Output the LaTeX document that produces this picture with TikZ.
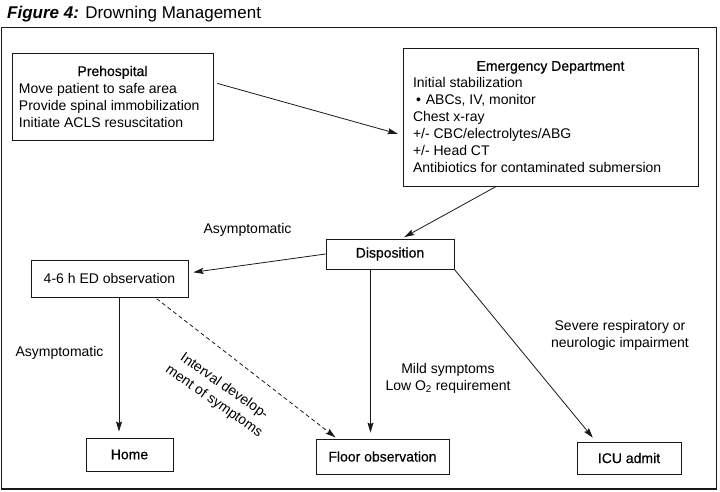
\documentclass[tikz,border=0pt]{standalone}
\usepackage{fontspec}
\setmainfont{Liberation Sans}
\newfontfamily\medfont[FakeBold=0.5]{Liberation Sans}
\usetikzlibrary{arrows.meta}
\begin{document}
\begin{tikzpicture}[x=1pt,y=-1pt,
  font=\fontsize{14}{17}\selectfont,
  box/.style={draw=black!90, line width=0.9pt, rectangle, inner sep=0pt},
  arr/.style={draw=black!90, line width=0.8pt, -{Stealth[length=10pt,width=6pt,inset=1.5pt]}},
  lbl/.style={align=center, inner sep=0pt}]
\useasboundingbox (0,0) rectangle (720,491);
\node[anchor=base west, font=\fontsize{17}{20}\selectfont, inner sep=0pt] (title) at (7,18.5)
  {\textbf{\textit{Figure 4:}} Drowning Management};
\node[draw=black!90, line width=1.6pt, inner sep=0pt, minimum width=715, minimum height=461.5] (frame) at (359,258.25) {};

\node[box, minimum width=201, minimum height=87] (pre) at (112.5,96.5)
  {\begin{minipage}{187pt}\centering{\medfont Prehospital}\par\raggedright
   Move patient to safe area\\Provide spinal immobilization\\Initiate ACLS resuscitation\par\end{minipage}};
\node[box, minimum width=295, minimum height=138] (ed) at (550.5,117)
  {\begin{minipage}{275pt}\centering{\medfont Emergency Department}\par\raggedright
   Initial stabilization\\\hspace*{3pt}•\hspace*{5pt}ABCs, IV, monitor\\Chest x-ray\\+/- CBC/electrolytes/ABG\\+/- Head CT\\Antibiotics for contaminated submersion\par\end{minipage}};
\node[box, minimum width=128, minimum height=30] (disp) at (390,254) {\medfont Disposition};
\node[box, minimum width=157, minimum height=37] (obs) at (109.5,278.5) {4-6 h ED observation};
\node[box, minimum width=87, minimum height=33] (home) at (129.5,454.5) {\medfont Home};
\node[box, minimum width=133, minimum height=35] (floor) at (382.5,456.5) {\medfont Floor observation};
\node[box, minimum width=104, minimum height=32] (icu) at (629,458) {\medfont ICU admit};

\node[lbl] (l1) at (247.5,230) {Asymptomatic};
\node[lbl] (l2) at (59.5,353) {Asymptomatic};
\node[lbl] (l3) at (448,378.5) {Mild symptoms\\Low O\textsubscript{2} requirement};
\node[lbl] (l4) at (620,335.5) {Severe respiratory or\\neurologic impairment};
\node[lbl, rotate=-35, font=\fontsize{14}{18}\selectfont] (l5) at (219,394) {Interval develop-\\ment of symptoms};

\draw[arr, shorten >=5pt, shorten <=4pt] (pre.8) -- (ed.187);
\draw[arr, shorten >=3pt] (ed.232.2) -- (disp.53.7);
\draw[arr, shorten >=5pt] (disp.west) -- (obs.4);
\draw[arr, shorten >=6pt] ([xshift=9.5pt]obs.south) -- ([xshift=-10.5pt]home.north);
\draw[arr, dash pattern=on 4pt off 3pt, shorten >=2pt, shorten <=2pt] ([xshift=45.5pt]obs.south) -- ([xshift=-45.5pt]floor.north);
\draw[arr, shorten >=6pt] ([xshift=-19.5pt]disp.south) -- ([xshift=-12pt]floor.north);
\draw[arr, shorten >=5pt] (disp.south east) -- ([xshift=-33pt]icu.north);
\end{tikzpicture}
\end{document}
